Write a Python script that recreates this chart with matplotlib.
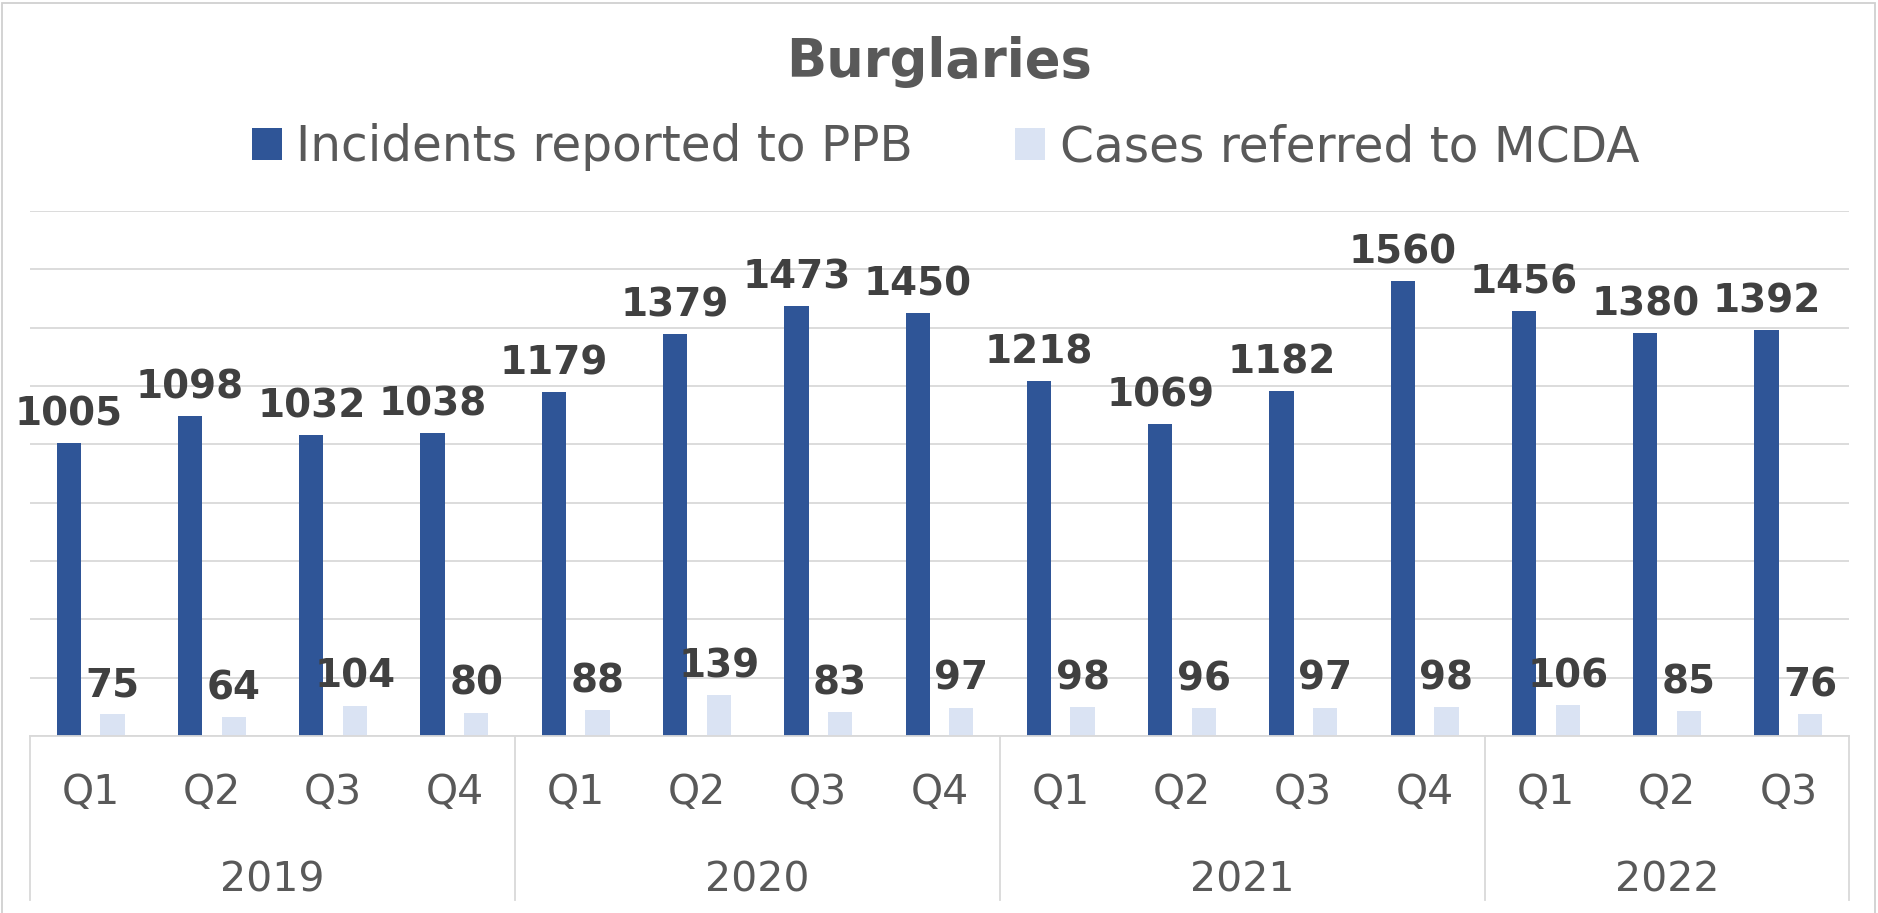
import matplotlib.pyplot as plt
from matplotlib.patches import Rectangle
from matplotlib.transforms import blended_transform_factory

# Burglaries by quarter, 2019 Q1 .. 2022 Q3
quarters = ['Q1', 'Q2', 'Q3', 'Q4'] * 3 + ['Q1', 'Q2', 'Q3']
years = ['2019', '2020', '2021', '2022']
year_sizes = [4, 4, 4, 3]
incidents = [1005, 1098, 1032, 1038, 1179, 1379, 1473, 1450, 1218, 1069, 1182, 1560, 1456, 1380, 1392]
cases = [75, 64, 104, 80, 88, 139, 83, 97, 98, 96, 97, 98, 106, 85, 76]
series_names = ['Incidents reported to PPB', 'Cases referred to MCDA']

dark = '#2F5597'
light = '#DAE3F3'
grey_text = '#595959'
label_col = '#404040'
grid_col = '#D9D9D9'

W, H = 1878, 913
fig = plt.figure(figsize=(W / 100, H / 100), dpi=100)
ax = fig.add_axes([30 / W, (H - 736) / H, 1819 / W, 525 / H])

x = list(range(len(quarters)))
off, bw = 0.18, 0.2
b1 = ax.bar([i - off for i in x], incidents, width=bw, color=dark, label=series_names[0], zorder=2)
b2 = ax.bar([i + off for i in x], cases, width=bw, color=light, label=series_names[1], zorder=2)

lab = dict(fontsize=28, fontweight='bold', color=label_col, padding=7)
ax.bar_label(b1, **lab)
ax.bar_label(b2, **lab)

ax.set_xlim(-0.5, len(quarters) - 0.5)
ax.set_ylim(0, 1800)
ax.set_yticks(range(0, 1801, 200))
ax.yaxis.grid(True, color=grid_col, linewidth=1.3, zorder=0)
ax.set_axisbelow(True)
ax.tick_params(axis='y', left=False, labelleft=False)
ax.tick_params(axis='x', bottom=False, labelbottom=False)
for s in ['left', 'right', 'top']:
    ax.spines[s].set_visible(False)
ax.spines['bottom'].set_color(grid_col)
ax.spines['bottom'].set_linewidth(1.3)

# two-level category axis
tr = blended_transform_factory(ax.transData, ax.transAxes)
for i, q in enumerate(quarters):
    ax.text(i, -57 / 525, q, transform=tr, ha='center', va='center',
            fontsize=29.5, color=grey_text)
start = 0
bounds = [-0.5]
for y, n in zip(years, year_sizes):
    ax.text(start + (n - 1) / 2, -144 / 525, y, transform=tr, ha='center', va='center',
            fontsize=29.5, color=grey_text)
    start += n
    bounds.append(start - 0.5)
for b in bounds:
    ax.plot([b, b], [0, -164 / 525], transform=tr, color=grid_col, linewidth=1.3, clip_on=False)

fig.text(0.5, 1 - 77 / H, 'Burglaries', ha='center', va='baseline',
         fontsize=38, fontweight='bold', color=grey_text)

leg = fig.legend(handles=[b1, b2], loc='center', bbox_to_anchor=(0.5035, 1 - 147 / H),
                 ncol=2, frameon=False, fontsize=35, handlelength=0.62, handleheight=0.62,
                 handletextpad=0.3, columnspacing=2.1, labelcolor=grey_text)

# chart area border
fig.add_artist(Rectangle((2 / W, -0.01), 1873 / W, 1 - 3 / H + 0.01, transform=fig.transFigure,
                         fill=False, edgecolor='#D0D0D0', linewidth=1.3))

fig.savefig('out.png', dpi=100)
